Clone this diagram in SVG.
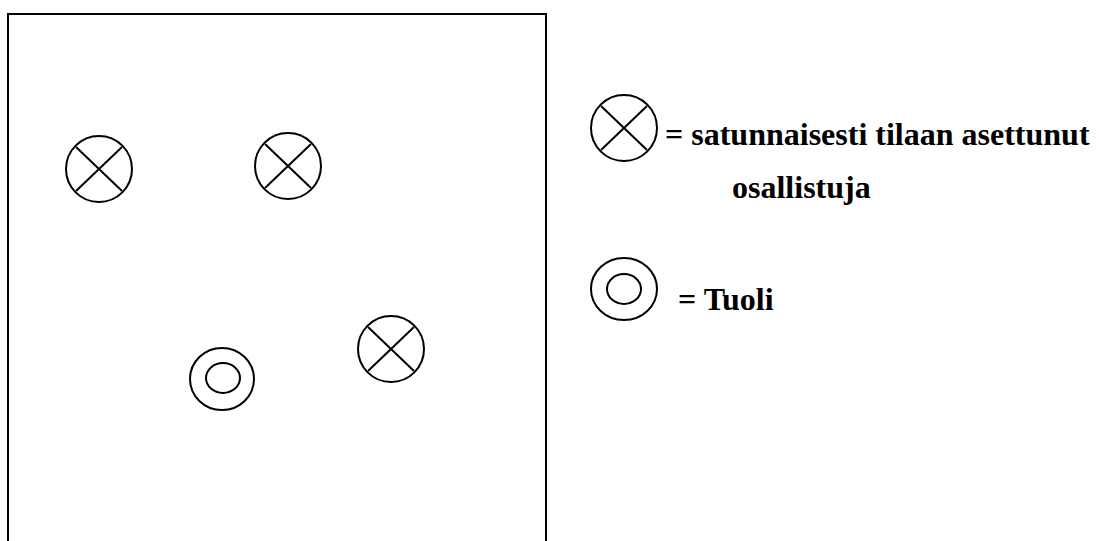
<svg xmlns="http://www.w3.org/2000/svg" width="1099" height="541" viewBox="0 0 1099 541">
<defs>
<style>
.ln{fill:none;stroke:#000;stroke-width:2}
.t{font-family:"Liberation Serif","Times New Roman",serif;font-weight:bold;font-size:32px;fill:#000}
</style>
<g id="xsym">
<circle class="ln" cx="0" cy="0" r="33"/>
<line class="ln" x1="-23" y1="-22" x2="23" y2="22"/>
<line class="ln" x1="23" y1="-22" x2="-23" y2="22"/>
</g>
</defs>
<rect width="1099" height="541" fill="#fff"/>
<g id="room">
<rect class="ln" x="8" y="14" width="538" height="540"/>
</g>
<g id="participant1"><use href="#xsym" x="99" y="169"/></g>
<g id="participant2"><use href="#xsym" x="288" y="166"/></g>
<g id="participant3"><use href="#xsym" x="391" y="349"/></g>
<g id="chair">
<ellipse class="ln" cx="222" cy="379" rx="32" ry="31"/>
<ellipse class="ln" cx="223" cy="378" rx="17" ry="15"/>
</g>
<g id="legend-participant">
<use href="#xsym" x="624" y="128"/>
<text class="t" x="665" y="145">= satunnaisesti tilaan asettunut</text>
<text class="t" x="732" y="198">osallistuja</text>
</g>
<g id="legend-chair">
<ellipse class="ln" cx="624" cy="289" rx="33" ry="31"/>
<ellipse class="ln" cx="624" cy="289" rx="17" ry="15"/>
<text class="t" x="678" y="310">= Tuoli</text>
</g>
<g id="connectors"/>
</svg>
